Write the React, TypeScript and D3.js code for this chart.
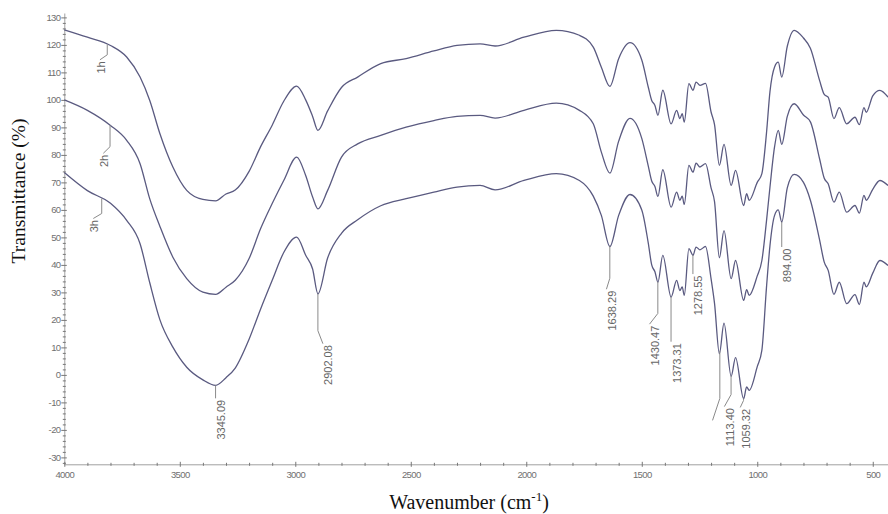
import React, { useRef, useEffect } from 'react';
import * as d3 from 'd3';

// wavenumber grid (cm-1), shared by the three spectra
const wavenumbers = [
  4000, 3900, 3800, 3730, 3672, 3630, 3586, 3530, 3470, 3400, 3345, 3300, 3260, 3200, 3150, 3100,
  3050, 2994, 2955, 2925, 2902, 2860, 2800, 2730, 2630, 2520, 2400, 2300, 2200, 2135, 2010, 1870,
  1770, 1710, 1675, 1638, 1600, 1551, 1500, 1472, 1457, 1443, 1430, 1409, 1373, 1349, 1335, 1325,
  1316, 1296, 1278, 1265, 1248, 1224, 1200, 1185, 1164, 1144, 1113, 1094, 1059, 1046, 1035, 1000,
  980, 960, 945, 925, 909, 894, 870, 840, 800, 770, 730, 710, 693, 668, 645, 613,
  577, 558, 538, 528, 500, 469, 434,
];

const spectrum1h = [
  125.5, 122.8, 119.8, 115.6, 108.3, 99.8, 87.7, 75.6, 67.1, 63.8, 63.3, 65.8, 67.2, 74, 83, 90.8,
  99.5, 105, 100, 94, 88.9, 96, 104.5, 108.3, 113.2, 115, 117.8, 119.8, 120.4, 119.6, 122.8, 125.3,
  123.5, 119.2, 111.9, 104.9, 115, 120.8, 114.5, 104.7, 99.8, 98, 94.4, 103.5, 91.3, 96.2, 93.2, 95,
  91.9, 105.9, 103.5, 106.5, 105.3, 106, 95.6, 91, 76.2, 83.8, 68.9, 74.4, 61.6, 65.9, 63.5, 70,
  73.2, 88, 103, 112, 113.7, 108.3, 119.5, 125.3, 122.5, 118.8, 107, 102, 101, 93.2, 97.2, 91.3,
  93.7, 91, 97.2, 95.5, 101.5, 103.5, 101,
];

const spectrum2h = [
  100, 96.2, 90.7, 85.3, 76.8, 64, 54, 42.8, 35, 30.1, 29.3, 31.9, 34.4, 42.3, 53.2, 62.3,
  70.7, 79.2, 72.5, 64.7, 60.4, 67.1, 79.2, 84, 87.1, 90.1, 92.5, 94, 94.4, 93.4, 96.2, 98.8,
  96.2, 91.3, 81, 73.4, 85, 93.3, 86, 76, 70.5, 68.5, 64.9, 74.6, 61, 66.5, 63.5, 65,
  62, 76.2, 73.7, 77, 75.6, 76.8, 68, 63, 42.6, 52.5, 35, 41.6, 27.1, 31, 28.9, 36,
  41.6, 56, 68.3, 83, 88.9, 83.8, 94, 98.6, 94.5, 92, 78.5, 71.5, 69.5, 62.8, 66.5, 59.2,
  61.6, 58.8, 65.3, 63.5, 67.5, 70.7, 68.9,
];

const spectrum3h = [
  73.6, 67, 62.4, 56.2, 47.7, 33.5, 20, 10.1, 2.8, -1.8, -3.8, -1, 2.5, 13, 24, 34.4,
  44.5, 50.1, 43.5, 38.5, 29.5, 42.5, 51.5, 56.4, 61.5, 64.1, 66.5, 68.3, 68.9, 67.3, 70.7, 73.2,
  70.7, 65, 58, 46.7, 58, 65.6, 60, 48, 40, 37.5, 33.7, 43.5, 28.3, 34.4, 30.7, 32,
  28.9, 45.9, 43.5, 46.5, 45.5, 46.7, 35, 26, 7.7, 18.8, -0.5, 6.3, -8.7, -4.4, -5.6, 3,
  9, 31.9, 47, 58, 60, 55.6, 68, 72.9, 70, 63.5, 49, 41, 38, 29.3, 33.7, 25.9,
  29.2, 25.6, 33.7, 32, 37, 41.6, 39.8,
];

const seriesNames = ['1h', '2h', '3h'];
const seriesTagWavenumbers = [3814, 3802, 3838];

const yTickValues = [-30, -20, -10, 0, 10, 20, 30, 40, 50, 60, 70, 80, 90, 100, 110, 120, 130];
const xTickValues = [4000, 3500, 3000, 2500, 2000, 1500, 1000, 500];

// peaks marked on the 3h spectrum (one leader has no readable text)
const peakWavenumbers = [3345.09, 2902.08, 1638.29, 1430.47, 1373.31, 1278.55, 1162, 1113.4, 1059.32, 894.0];
const peakTexts = ['3345.09', '2902.08', '1638.29', '1430.47', '1373.31', '1278.55', '', '1113.40', '1059.32', '894.00'];

// leader geometry in px: vertical drop, then a small kink (dx, dy)
const peakLeaders = [
  [13, 0, 0], [37, 5, 13], [32, -3.4, 11], [31.6, -8.3, 10.7], [45, 0, 0],
  [19, 0, 0], [47.7, -7.3, 22], [19, -6.7, 12], [2, -3.3, 7], [25, 0, 0],
];
const tagLeaders = [[10.5, -7.3, 5], [21.5, -6.7, 6.6], [15, -8.4, 5]];

const App = () => {
  const svgRef = useRef<SVGSVGElement>(null);

  useEffect(() => {
    const svg = d3.select(svgRef.current);
    svg.selectAll('*').remove();

    const x = d3.scaleLinear().domain([4000, 434]).range([64.3, 888]);
    const y = d3.scaleLinear().domain([131.6, -32.4]).range([13, 464]);

    const axisColor = '#a0a0a0';
    const tickFont = '"Liberation Sans", Arial, sans-serif';

    // y axis
    const minorY = d3.range(-32, 131, 2).filter(v => v % 10 !== 0);
    const gy = svg.append('g').attr('transform', 'translate(64.3,0)');
    gy.call(d3.axisLeft(y).tickValues(minorY).tickSize(0).tickSizeOuter(0).tickFormat(() => ''));
    gy.select('.domain').attr('stroke', axisColor);
    gy.selectAll('.tick').append('line').attr('x1', -1.5).attr('x2', 1.5).attr('stroke', '#777');

    const gyMajor = svg.append('g').attr('transform', 'translate(64.3,0)');
    gyMajor.call(d3.axisLeft(y).tickValues(yTickValues).tickSize(3).tickSizeOuter(0).tickFormat(d => String(d)));
    gyMajor.select('.domain').remove();
    gyMajor.selectAll('.tick line').attr('x1', 2.5).attr('x2', -3).attr('stroke', '#777');
    gyMajor.selectAll('.tick text')
      .attr('x', -3.8)
      .attr('fill', '#707070')
      .style('font-family', tickFont)
      .style('font-size', '9.5px')
      .style('letter-spacing', '-0.6px');

    // x axis
    const minorX = d3.range(4000, 433, -100).filter(v => v % 500 !== 0);
    const gx = svg.append('g').attr('transform', 'translate(0,464.3)');
    gx.call(d3.axisBottom(x).tickValues(minorX).tickSize(0).tickSizeOuter(0).tickFormat(() => ''));
    gx.select('.domain').attr('stroke', axisColor);
    gx.selectAll('.tick').append('line').attr('y1', -1.5).attr('y2', 1.5).attr('stroke', '#777');

    const gxMajor = svg.append('g').attr('transform', 'translate(0,464.3)');
    gxMajor.call(d3.axisBottom(x).tickValues(xTickValues).tickSize(3).tickSizeOuter(0).tickFormat(d => String(d)));
    gxMajor.select('.domain').remove();
    gxMajor.selectAll('.tick line').attr('y1', -2.5).attr('y2', 2.5).attr('stroke', '#777');
    gxMajor.selectAll('.tick text')
      .attr('y', 11)
      .attr('dy', '0.32em')
      .attr('fill', '#707070')
      .style('font-family', tickFont)
      .style('font-size', '9.5px')
      .style('letter-spacing', '-0.6px');

    // spectra
    const spectra = [spectrum1h, spectrum2h, spectrum3h];
    const line = d3.line<number>()
      .x((_, i) => x(wavenumbers[i]))
      .y(d => y(d))
      .curve(d3.curveMonotoneX);

    spectra.forEach(s => {
      svg.append('path')
        .datum(s)
        .attr('fill', 'none')
        .attr('stroke', '#5a5a80')
        .attr('stroke-width', 1.3)
        .attr('stroke-linejoin', 'round')
        .attr('d', line);
    });

    const valueAt = (s: number[], wn: number) => d3.scaleLinear().domain(wavenumbers).range(s)(wn);

    const drawLabel = (px: number, py: number, leader: number[], text: string, tdx: number) => {
      const [drop, dx, dy] = leader;
      const yv = py + drop;
      const ex = px + dx;
      const ey = yv + dy;
      svg.append('path')
        .attr('d', `M${px},${py}L${px},${yv}L${ex},${ey}`)
        .attr('fill', 'none')
        .attr('stroke', '#8a8a8a')
        .attr('stroke-width', 1);
      if (text) {
        svg.append('text')
          .attr('transform', `translate(${ex + tdx},${ey + 1.5}) rotate(-90)`)
          .attr('text-anchor', 'end')
          .attr('dominant-baseline', 'central')
          .attr('fill', '#666')
          .style('font-family', tickFont)
          .style('font-size', '11px')
          .text(text);
      }
    };

    peakWavenumbers.forEach((wn, i) => {
      drawLabel(x(wn), y(valueAt(spectrum3h, wn)), peakLeaders[i], peakTexts[i], 5.5);
    });

    seriesNames.forEach((name, i) => {
      const wn = seriesTagWavenumbers[i];
      drawLabel(x(wn), y(valueAt(spectra[i], wn)), tagLeaders[i], name, 1);
    });

    // axis titles
    const titleFont = '"Liberation Serif", "Times New Roman", serif';
    svg.append('text')
      .attr('transform', 'translate(25,191) rotate(-90)')
      .attr('text-anchor', 'middle')
      .attr('fill', '#111')
      .style('font-family', titleFont)
      .style('font-size', '19.5px')
      .text('Transmittance (%)');

    const xt = svg.append('text')
      .attr('x', 469)
      .attr('y', 509)
      .attr('text-anchor', 'middle')
      .attr('fill', '#111')
      .style('font-family', titleFont)
      .style('font-size', '20px');
    xt.append('tspan').text('Wavenumber (cm');
    xt.append('tspan').attr('dy', -8).style('font-size', '13px').text('-1');
    xt.append('tspan').attr('dy', 8).text(')');
  }, []);

  return (
    <svg
      ref={svgRef}
      width={888}
      height={514}
      style={{ position: 'absolute', left: 0, top: 0, background: '#fff' }}
    />
  );
};

export default App;
